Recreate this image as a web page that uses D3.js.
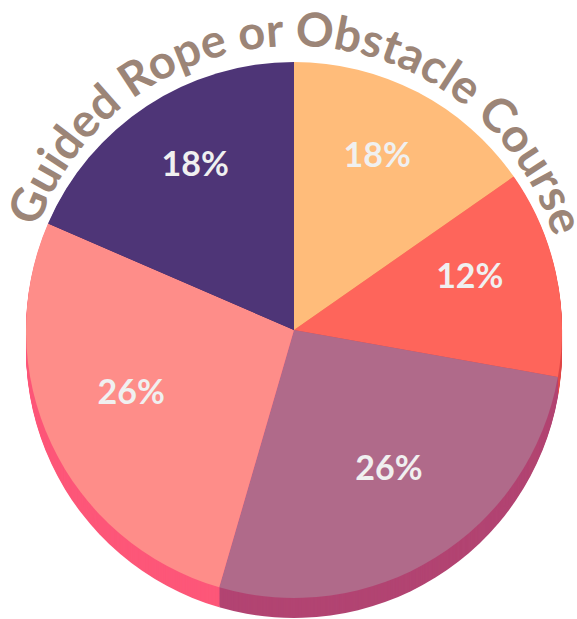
<!DOCTYPE html>
<html>
<head>
<meta charset="utf-8">
<script src="https://cdn.jsdelivr.net/npm/d3@7"></script>
<style>
  body { margin: 0; background: #fff; }
  svg { display: block; font-family: Lato, "Open Sans", sans-serif; }
</style>
</head>
<body>
<div id="grafica"></div>
<script>
// Datos
const titulo = "Guided Rope or Obstacle Course"
const categorias = ["A", "B", "C", "D", "E"]
const valores = [15.3, 12.5, 26.7, 27.0, 18.5]
const etiquetas = ["18%", "12%", "26%", "26%", "18%"]
const colores = ["#ffbc7a", "#fe655b", "#b06a8a", "#fe8d89", "#4e3577"]
const coloresSombra = ["#e89a58", "#e04848", "#b24472", "#fd5779", "#3a2560"]

const anchoTotal = 577
const altoTotal = 619
const cx = 294, cy = 330
const radio = 268
const grosor = 20

const svg = d3.select("#grafica").append("svg")
    .attr("width", anchoTotal)
    .attr("height", altoTotal)

const pie = d3.pie().sort(null).value(d => d)
const arcos = pie(valores)
const arco = d3.arc().innerRadius(0).outerRadius(radio)

// Sombra (extrusion)
const sombra = svg.append("g")
for (let k = grosor; k >= 1; k--) {
  sombra.append("g")
      .attr("transform", `translate(${cx},${cy + k})`)
    .selectAll("path")
    .data(arcos)
    .join("path")
      .attr("d", arco)
      .attr("fill", (d, i) => coloresSombra[i])
}

// Pastel
const g = svg.append("g")
    .attr("transform", `translate(${cx},${cy})`)

g.selectAll("path.slice")
  .data(arcos)
  .join("path")
    .attr("class", "slice")
    .attr("d", arco)
    .attr("fill", (d, i) => colores[i])

// Etiquetas
const arcoEtiqueta = d3.arc().innerRadius(180).outerRadius(180)
g.selectAll("text.lbl")
  .data(arcos)
  .join("text")
    .attr("class", "lbl")
    .attr("transform", d => {
      const [x, y] = arcoEtiqueta.centroid(d)
      return `translate(${x},${y - 15})`
    })
    .attr("text-anchor", "middle")
    .attr("dy", "0.35em")
    .attr("font-size", "34px")
    .attr("font-weight", "bold")
    .attr("fill", "#f0f0f0")
    .text((d, i) => etiquetas[i])

// Titulo curvo
const tcy = 318
const rTitulo = 272
svg.append("path")
    .attr("id", "curva")
    .attr("fill", "none")
    .attr("d", `M${cx - rTitulo},${tcy} A${rTitulo},${rTitulo} 0 0 1 ${cx + rTitulo},${tcy}`)

svg.append("text")
    .attr("font-size", "47px")
    .attr("font-weight", "bold")
    .attr("fill", "#9c8577")
  .append("textPath")
    .attr("href", "#curva")
    .attr("startOffset", "50.6%")
    .attr("text-anchor", "middle")
    .text(titulo)
</script>
</body>
</html>
